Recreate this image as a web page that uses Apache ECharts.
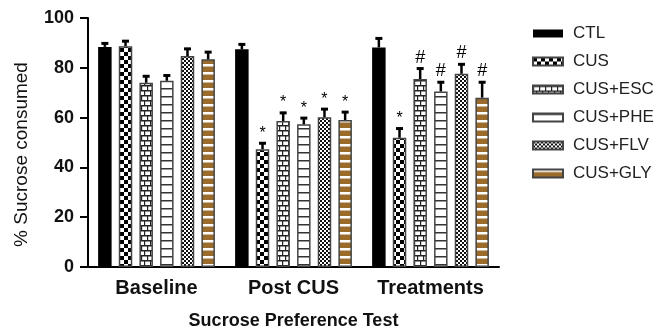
<!DOCTYPE html>
<html>
<head>
<meta charset="utf-8">
<script src="https://cdn.jsdelivr.net/npm/echarts@6/dist/echarts.min.js"></script>
<style>
  html, body { margin: 0; padding: 0; background: #fff; }
  #chart { width: 654px; height: 335px; }
</style>
</head>
<body>
<div id="chart"></div>
<script>
// Sucrose preference test: mean % sucrose consumed with upward SEM bars
const categories = ['Baseline', 'Post CUS', 'Treatments'];
const groupNames = ['CTL', 'CUS', 'CUS+ESC', 'CUS+PHE', 'CUS+FLV', 'CUS+GLY'];

const ctlMean = [88.4, 87.4, 88.2];
const cusMean = [88.7, 47.3, 51.9];
const escMean = [74.0, 58.6, 75.5];
const pheMean = [74.8, 57.3, 70.5];
const flvMean = [84.7, 60.1, 77.6];
const glyMean = [83.4, 59.0, 68.0];

const ctlErr = [1.8, 2.4, 4.0];
const cusErr = [2.4, 2.8, 4.1];
const escErr = [3.0, 3.7, 4.6];
const pheErr = [2.5, 2.9, 4.1];
const flvErr = [3.3, 3.7, 4.2];
const glyErr = [3.3, 3.6, 6.6];

// significance marks: * vs CTL, # vs CUS
const ctlMark = ['', '', ''];
const cusMark = ['', '*', '*'];
const escMark = ['', '*', '#'];
const pheMark = ['', '*', '#'];
const flvMark = ['', '*', '#'];
const glyMark = ['', '*', '#'];

const means = [ctlMean, cusMean, escMean, pheMean, flvMean, glyMean];
const errs = [ctlErr, cusErr, escErr, pheErr, flvErr, glyErr];
const marks = [ctlMark, cusMark, escMark, pheMark, flvMark, glyMark];

const BROWN = '#9b6b2c';

function canvasOf(w, h, draw) {
  const c = document.createElement('canvas');
  c.width = w; c.height = h;
  const ctx = c.getContext('2d');
  draw(ctx);
  return { image: c, repeat: 'repeat' };
}

const fills = [
  '#000',
  // coarse checkerboard
  canvasOf(8, 8, ctx => {
    ctx.fillStyle = '#fff'; ctx.fillRect(0, 0, 8, 8);
    ctx.fillStyle = '#000'; ctx.fillRect(0, 0, 4, 4); ctx.fillRect(4, 4, 4, 4);
  }),
  // brick
  canvasOf(6, 10, ctx => {
    ctx.fillStyle = '#fff'; ctx.fillRect(0, 0, 6, 10);
    ctx.fillStyle = '#222';
    ctx.fillRect(0, 0, 6, 1.5); ctx.fillRect(0, 5, 6, 1.5);
    ctx.fillRect(0, 0, 1.2, 5); ctx.fillRect(3, 5, 1.2, 5);
  }),
  // horizontal rungs
  canvasOf(4, 8, ctx => {
    ctx.fillStyle = '#fff'; ctx.fillRect(0, 0, 4, 8);
    ctx.fillStyle = '#333'; ctx.fillRect(0, 0, 4, 1.5);
  }),
  // fine checkerboard
  canvasOf(4, 4, ctx => {
    ctx.fillStyle = '#fff'; ctx.fillRect(0, 0, 4, 4);
    ctx.fillStyle = '#111'; ctx.fillRect(0, 0, 2, 2); ctx.fillRect(2, 2, 2, 2);
  }),
  // brown with white stripes
  canvasOf(4, 8, ctx => {
    ctx.fillStyle = BROWN; ctx.fillRect(0, 0, 4, 8);
    ctx.fillStyle = '#fff'; ctx.fillRect(0, 0, 4, 2.5);
  })
];

const BAR_W = 13.5;
const BAR_GAP = 0.53;
const PITCH = BAR_W * (1 + BAR_GAP);

const barSeries = groupNames.map((name, i) => ({
  name: name,
  type: 'bar',
  data: means[i],
  barWidth: BAR_W,
  barGap: (BAR_GAP * 100) + '%',
  itemStyle: {
    color: fills[i],
    borderColor: i === 0 ? '#000' : '#444',
    borderWidth: i === 0 ? 0 : 1.5
  },
  emphasis: { disabled: true },
  z: 2
}));

const errSeries = groupNames.map((name, i) => ({
  name: name + ' SEM',
  type: 'custom',
  z: 5,
  silent: true,
  data: categories.map((c, k) => [k, means[i][k], errs[i][k]]),
  renderItem: function (params, api) {
    const k = api.value(0);
    const m = api.value(1);
    const e = api.value(2);
    const mark = marks[i][k];
    const x = api.coord([k, 0])[0] + (i - 2.5) * PITCH;
    const yBar = api.coord([k, m])[1];
    const yTop = api.coord([k, m + e])[1];
    const children = [
      { type: 'line', shape: { x1: x, y1: yBar, x2: x, y2: yTop }, style: { stroke: '#000', lineWidth: 2.5 } },
      { type: 'line', shape: { x1: x - 3.5, y1: yTop + 1, x2: x + 3.5, y2: yTop + 1 }, style: { stroke: '#000', lineWidth: 3 } }
    ];
    if (mark === '*') {
      children.push({ type: 'text', style: { text: '*', x: x, y: yTop - 9, align: 'center', verticalAlign: 'middle', font: '16px Arial, "Liberation Sans", sans-serif', fill: '#000' } });
    } else if (mark === '#') {
      children.push({ type: 'text', style: { text: '#', x: x, y: yTop - 10, align: 'center', verticalAlign: 'middle', font: '18px Arial, "Liberation Sans", sans-serif', fill: '#000' } });
    }
    return { type: 'group', children: children };
  }
}));

const chart = echarts.init(document.getElementById('chart'), null, { renderer: 'canvas' });
chart.setOption({
  animation: false,
  backgroundColor: '#fff',
  textStyle: { fontFamily: 'Arial, "Liberation Sans", sans-serif' },
  grid: { left: 88, right: 155, top: 18, bottom: 65 },
  legend: {
    data: groupNames,
    orient: 'vertical',
    left: 527,
    top: 20,
    icon: 'rect',
    itemWidth: 30,
    itemHeight: 8,
    itemGap: 11,
    selectedMode: false,
    textStyle: { fontSize: 17, color: '#222', padding: [0, 0, 0, 5] }
  },
  xAxis: {
    type: 'category',
    data: categories,
    name: 'Sucrose Preference Test',
    nameLocation: 'middle',
    nameGap: 45,
    nameTextStyle: { fontSize: 18, fontWeight: 'bold', color: '#111' },
    axisLine: { lineStyle: { color: '#000', width: 2 } },
    axisTick: { alignWithLabel: true, length: 5, lineStyle: { color: '#000', width: 2 } },
    axisLabel: { interval: 0, hideOverlap: false, fontSize: 20, fontWeight: 'bold', color: '#111', margin: 11 }
  },
  yAxis: {
    type: 'value',
    min: 0,
    max: 100,
    interval: 20,
    name: '% Sucrose consumed',
    nameLocation: 'middle',
    nameRotate: 90,
    nameGap: 57,
    nameTextStyle: { fontSize: 19, color: '#111', padding: [0, 24, 0, 0] },
    axisLine: { show: true, lineStyle: { color: '#000', width: 2 } },
    axisTick: { show: true, length: 8, lineStyle: { color: '#000', width: 2 } },
    axisLabel: { fontSize: 18, fontWeight: 'bold', color: '#111', margin: 14 },
    splitLine: { show: false }
  },
  series: barSeries.concat(errSeries)
});
</script>
</body>
</html>
